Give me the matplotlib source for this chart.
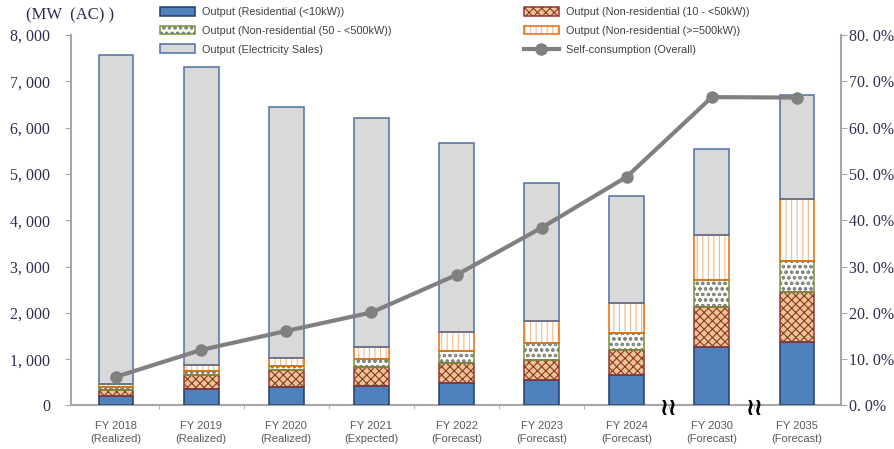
import matplotlib
matplotlib.use('Agg')
import matplotlib.pyplot as plt
from matplotlib.patches import Patch
from matplotlib.lines import Line2D
import numpy as np

# ---- data ----
years = ["FY 2018", "FY 2019", "FY 2020", "FY 2021", "FY 2022",
         "FY 2023", "FY 2024", "FY 2030", "FY 2035"]
status = ["(Realized)", "(Realized)", "(Realized)", "(Expected)", "(Forecast)",
          "(Forecast)", "(Forecast)", "(Forecast)", "(Forecast)"]
residential = [215, 360, 410, 420, 480, 540, 650, 1260, 1380]
nonres_10_50 = [115, 300, 360, 405, 430, 445, 540, 875, 1080]
nonres_50_500 = [75, 90, 90, 170, 275, 360, 370, 575, 650]
nonres_500 = [55, 115, 170, 260, 395, 485, 660, 975, 1345]
sales = [7110, 6445, 5410, 4945, 4090, 2980, 2310, 1865, 2255]
self_consumption = [6.2, 12.0, 16.1, 20.1, 28.2, 38.4, 49.4, 66.6, 66.5]

series = [
    ("Output (Residential (<10kW))", residential, "#4F81BD", None, "#4F81BD", "#1F3D6B"),
    ("Output (Non-residential (10 - <50kW))", nonres_10_50, "#EDC39A", "xxxx", "#8B3A1A", "#943634"),
    ("Output (Non-residential (50 - <500kW))", nonres_50_500, "#F7FAF2", "ooo", "#858585", "#77933C"),
    ("Output (Non-residential (>=500kW))", nonres_500, "#FFFFFF", "|||", "#F6B98A", "#E46C0A"),
    ("Output (Electricity Sales)", sales, "#D9D9D9", None, "#D9D9D9", "#4F6FA0"),
]

plt.rcParams['hatch.linewidth'] = 0.8
serif = "Liberation Serif"
sans = "Liberation Sans"
tick_col = "#2E2E50"
axis_col = "#A6A6A6"

fig = plt.figure(figsize=(8.95, 4.49), dpi=100)
ax = fig.add_axes([0.0793, 0.0969, 0.8604, 0.825])

x = np.arange(len(years))
width = 0.41
bottom = np.zeros(len(years))
handles = {}
for label, vals, face, hatch, hcol, edge in series:
    vals = np.array(vals, dtype=float)
    ax.bar(x, vals, width, bottom=bottom, color=face, hatch=hatch,
           edgecolor=hcol, linewidth=0, zorder=2)
    ax.bar(x, vals, width, bottom=bottom, fill=False, edgecolor=edge,
           linewidth=1.1, zorder=3)
    bottom += vals
    handles[label] = (Patch(facecolor=face, hatch=hatch, edgecolor=hcol, linewidth=0),
                      Patch(fill=False, edgecolor=edge, linewidth=1.1))

ax.set_xlim(-0.529, 8.517)
ax.set_ylim(0, 8000)
ax.set_yticks(range(0, 8001, 1000))
ax.set_yticklabels([f"{v:,}".replace(",", ", ") for v in range(0, 8001, 1000)],
                   fontfamily=serif, fontsize=11.5, color=tick_col)
ax.set_xticks(x)
ax.set_xticklabels([f"{y}\n{s}" for y, s in zip(years, status)],
                   fontfamily=sans, fontsize=8, color="#595959", linespacing=1.35)
ax.set_xticks(np.arange(0.5, 8, 1), minor=True)
ax.tick_params(axis='x', which='major', length=0, pad=11)
ax.tick_params(axis='x', which='minor', length=3, color=axis_col)
ax.tick_params(axis='y', length=4, color=axis_col, pad=11)
for s in ['top', 'right']:
    ax.spines[s].set_visible(False)
for s in ['left', 'bottom']:
    ax.spines[s].set_color(axis_col)
    ax.spines[s].set_linewidth(1.5)

ax2 = ax.twinx()
ax2.plot(x, self_consumption, color="#808080", linewidth=3, marker='o',
         markersize=8, zorder=5)
ax2.set_ylim(0, 80)
ax2.set_yticks(range(0, 81, 10))
ax2.set_yticklabels([f"{v:.1f}%".replace(".", ". ") for v in range(0, 81, 10)],
                    fontfamily=serif, fontsize=11.5, color=tick_col)
ax2.tick_params(axis='y', length=4, color=axis_col, pad=2)
for s in ['top', 'left', 'bottom']:
    ax2.spines[s].set_visible(False)
ax2.spines['right'].set_color(axis_col)
ax2.spines['right'].set_linewidth(1.5)

# axis break marks between FY 2024 / 2030 / 2035
for bx in [6.5, 7.5]:
    ax.text(bx, -60, "\u2240\u2240", transform=ax.transData, ha='center', va='center',
            fontsize=17, fontweight='bold', color='black', clip_on=False, zorder=6,
            fontfamily="DejaVu Sans")

fig.text(70 / 895, 1 - 15 / 449, "(MW  (AC) )", ha='center', va='center',
         fontfamily=serif, fontsize=12, color=tick_col)

self_handle = Line2D([], [], color="#808080", linewidth=3, marker='o', markersize=8)
order = ["Output (Residential (<10kW))", "Output (Non-residential (50 - <500kW))",
         "Output (Electricity Sales)", "Output (Non-residential (10 - <50kW))",
         "Output (Non-residential (>=500kW))"]
leg_handles = [handles[k] for k in order] + [self_handle]
leg_labels = order + ["Self-consumption (Overall)"]
fig.legend(leg_handles, leg_labels, ncol=2, loc='upper left',
           bbox_to_anchor=(0.168, 1.007), frameon=False,
           prop={'family': sans, 'size': 7.8}, labelcolor="#404040",
           handlelength=3.2, handleheight=0.9, handletextpad=0.7,
           columnspacing=12.2, labelspacing=0.8)

fig.savefig("out.png", dpi=100)
